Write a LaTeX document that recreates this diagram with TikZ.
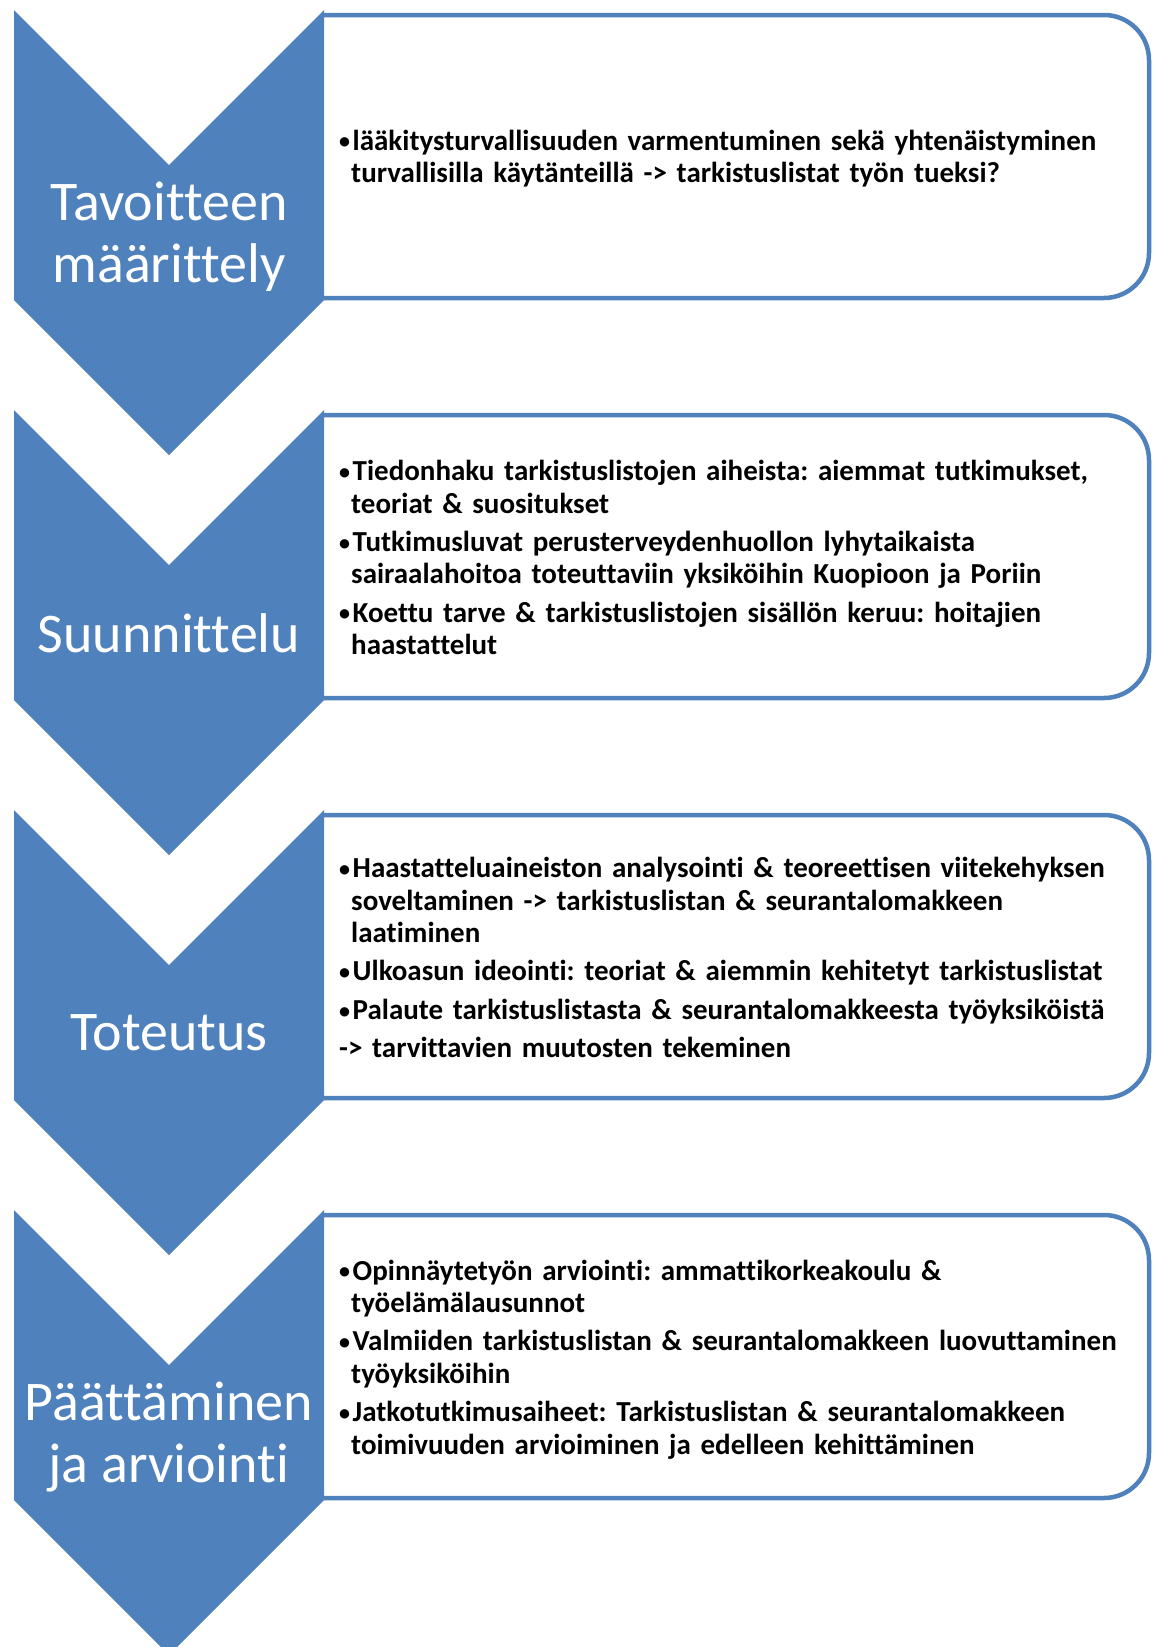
\documentclass[tikz,border=0pt]{standalone}
\usepackage{fontspec}
\setmainfont{Carlito}[Ligatures={NoCommon}]
\definecolor{accent}{HTML}{4F81BD}
\tikzset{
  chev/.style={fill=accent, draw=none},
  tbox/.style={draw=accent, line width=4.5pt, rounded corners=45pt, fill=white},
  lbl/.style={text=white, font=\fontsize{56}{62}\selectfont, align=center, inner sep=0pt},
  body/.style={anchor=west, inner sep=0pt, text width=810pt, align=left,
    font=\bfseries\fontsize{29}{32.5}\selectfont},
}
\newcommand{\bul}{\makebox[13.5pt][l]{\raisebox{1.2pt}{\fontsize{22}{22}\selectfont •}}}
\newcommand{\itm}[1]{\noindent\hangindent=12pt\hangafter=1\bul#1}
\newcommand{\nxt}{\par\vskip 5.8pt}
\newcommand{\chevshape}[1]{%
  \fill[chev] (14,#1) -- (169,#1+155) -- (324,#1) -- (324,#1+290) -- (169,#1+445) -- (14,#1+290) -- cycle;}
\newcommand{\tboxshape}[1]{%
  \draw[tbox] (324,#1+5) -- (1149,#1+5) -- (1149,#1+288) -- (324,#1+288);}
\begin{document}
\begin{tikzpicture}[x=1pt,y=-1pt]
\useasboundingbox (0,0) rectangle (1154,1647);
\clip (0,0) rectangle (1154,1647);
\fill[white] (0,0) rectangle (1154,1647);
% boxes
\tboxshape{10}
\tboxshape{410}
\tboxshape{810}
\tboxshape{1210}
% chevrons
\chevshape{10}
\chevshape{410}
\chevshape{810}
\chevshape{1210}
% labels
\node[lbl] (l1) at (169,237) {Tavoitteen\\määrittely};
\node[lbl] (l2) at (169,633) {Suunnittelu};
\node[lbl] (l3) at (169,1033) {Toteutus};
\node[lbl] (l4) at (169,1437.5) {Päättäminen\\ja arviointi};
% texts
\node[body] (b1) at (339,158.5) {\frenchspacing
\itm{lääkitysturvallisuuden varmentuminen sekä yhtenäistyminen\newline turvallisilla käytänteillä -> tarkistuslistat työn tueksi?}\par};
\node[body] (b2) at (339,557.5) {\frenchspacing
\itm{Tiedonhaku tarkistuslistojen aiheista: aiemmat tutkimukset,\newline teoriat \& suositukset}\nxt
\itm{Tutkimusluvat perusterveydenhuollon lyhytaikaista\newline sairaalahoitoa toteuttaviin yksiköihin Kuopioon ja Poriin}\nxt
\itm{Koettu tarve \& tarkistuslistojen sisällön keruu: hoitajien\newline haastattelut}\par};
\node[body] (b3) at (339,957.5) {\frenchspacing
\itm{Haastatteluaineiston analysointi \& teoreettisen viitekehyksen\newline soveltaminen -> tarkistuslistan \& seurantalomakkeen\newline laatiminen}\nxt
\itm{Ulkoasun ideointi: teoriat \& aiemmin kehitetyt tarkistuslistat}\nxt
\itm{Palaute tarkistuslistasta \& seurantalomakkeesta työyksiköistä}\nxt
\noindent -> tarvittavien muutosten tekeminen\par};
\node[body] (b4) at (339,1359.5) {\frenchspacing
\itm{Opinnäytetyön arviointi: ammattikorkeakoulu \&\newline työelämälausunnot}\nxt
\itm{Valmiiden tarkistuslistan \& seurantalomakkeen luovuttaminen\newline työyksiköihin}\nxt
\itm{Jatkotutkimusaiheet: Tarkistuslistan \& seurantalomakkeen\newline toimivuuden arvioiminen ja edelleen kehittäminen}\par};
\end{tikzpicture}
\end{document}
